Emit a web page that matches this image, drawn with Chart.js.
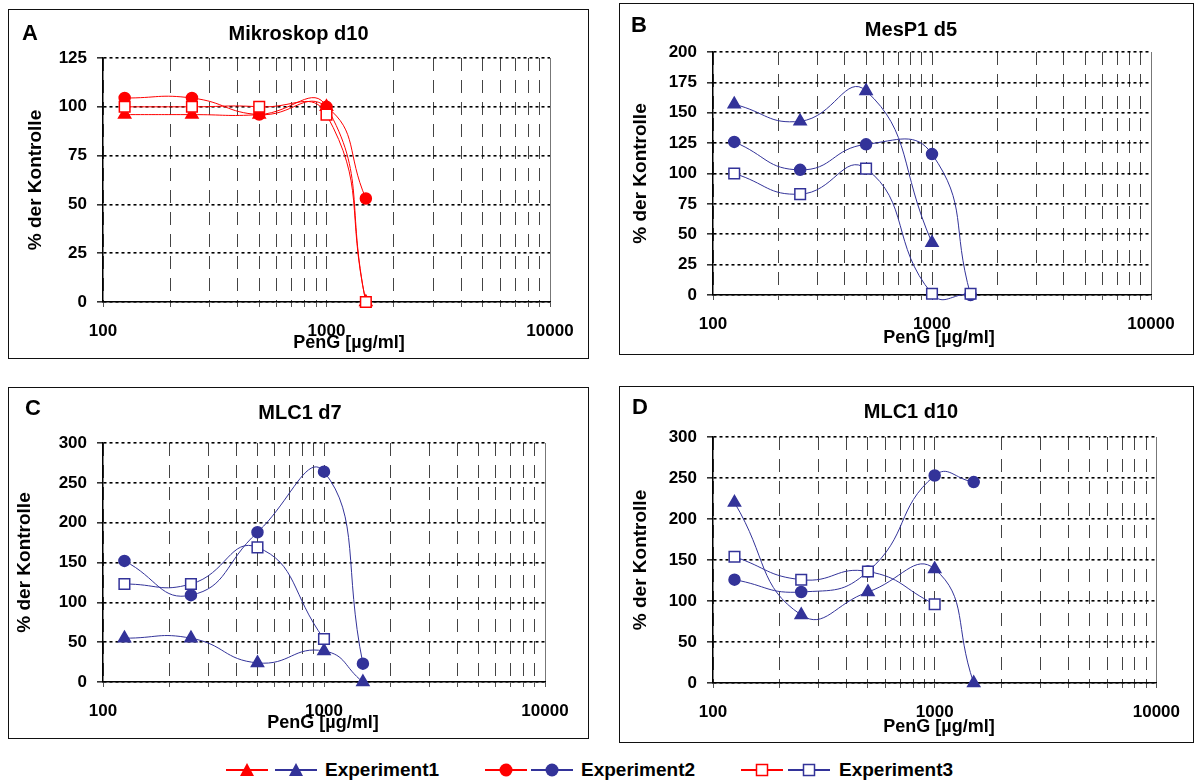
<!DOCTYPE html>
<html>
<head>
<meta charset="utf-8">
<script src="https://cdn.jsdelivr.net/npm/chart.js@4.4.1/dist/chart.umd.min.js"></script>
<style>
  html, body { margin: 0; padding: 0; background: #fff; }
  body { width: 1196px; height: 783px; position: relative; overflow: hidden;
         font-family: "Liberation Sans", Arial, sans-serif; }
  .panel { position: absolute; box-sizing: border-box; border: 1px solid #111; }
  .panel canvas { position: absolute; left: -1px; top: -1px; }
  .leg-icon { position: absolute; }
  .leg-text { position: absolute; font-weight: bold; font-size: 19px; line-height: 20px; color: #000; white-space: nowrap; }
</style>
</head>
<body>
<script>
// PenG concentrations (µg/ml) used in every experiment
const concentrations = [125, 250, 500, 1000, 1500];
const xTickLabels = [100, 1000, 10000];
const seriesNames = ['Experiment1', 'Experiment2', 'Experiment3'];

// Mikroskop d10 (% der Kontrolle)
const mikroskopD10Exp1 = [96, 96, 96, 100, 0];
const mikroskopD10Exp2 = [104.5, 104.5, 96, 100, 53];
const mikroskopD10Exp3 = [100, 100, 100, 96, 0];

// MesP1 d5
const mesp1D5Exp1 = [157, 143, 168, 43, null];
const mesp1D5Exp2 = [126, 103, 124, 116, 0];
const mesp1D5Exp3 = [100, 83, 104, 1, 1];

// MLC1 d7
const mlc1D7Exp1 = [55, 55, 24, 39, 0];
const mlc1D7Exp2 = [152, 109, 188, 264, 23];
const mlc1D7Exp3 = [123, 123, 169, 54, null];

// MLC1 d10
const mlc1D10Exp1 = [220, 83, 111, 139, 0];
const mlc1D10Exp2 = [126, 111, 136, 253, 245];
const mlc1D10Exp3 = [154, 126, 136, 96, null];

const panelLetters = ['A', 'B', 'C', 'D'];
const panelTitles = ['Mikroskop d10', 'MesP1 d5', 'MLC1 d7', 'MLC1 d10'];
const panelYMax = [125, 200, 300, 300];
const panelYStep = [25, 25, 50, 50];
const panelSeries = [
  [mikroskopD10Exp1, mikroskopD10Exp2, mikroskopD10Exp3],
  [mesp1D5Exp1, mesp1D5Exp2, mesp1D5Exp3],
  [mlc1D7Exp1, mlc1D7Exp2, mlc1D7Exp3],
  [mlc1D10Exp1, mlc1D10Exp2, mlc1D10Exp3]
];

const xAxisLabel = 'PenG [µg/ml]';
const yAxisLabel = '% der Kontrolle';

// ---- styling and layout ----
const RED = '#ff0000';
const BLUE = '#333399';
const panelColors = [RED, BLUE, BLUE, BLUE];
const FONT = '"Liberation Sans", Arial, sans-serif';
const X_AXIS_H = 40;

const layouts = [
  { box: {x: 8,   y: 9,   w: 581, h: 350}, plot: {l: 95, t: 49, r: 542, b: 293}, yTitleX: 28,
    title: {x: 290.5, y: 25}, letter: {x: 14, y: 25}, xTitle: {x: 341, y: 334} },
  { box: {x: 619, y: 3,   w: 575, h: 352}, plot: {l: 94, t: 49, r: 532, b: 292}, yTitleX: 22,
    title: {x: 292, y: 27}, letter: {x: 12, y: 23}, xTitle: {x: 320, y: 335} },
  { box: {x: 8,   y: 387, w: 581, h: 352}, plot: {l: 95, t: 56, r: 537, b: 295}, yTitleX: 17,
    title: {x: 292, y: 26}, letter: {x: 17, y: 22}, xTitle: {x: 315, y: 336} },
  { box: {x: 619, y: 386, w: 575, h: 357}, plot: {l: 94, t: 51, r: 543, b: 297}, yTitleX: 22,
    title: {x: 292, y: 26}, letter: {x: 13, y: 22}, xTitle: {x: 320, y: 341} }
];

// log grid: 1..9 in every decade between 100 and 10000
const xGridValues = [];
for (let d = 100; d < 10000; d *= 10) for (let m = 1; m < 10; m++) xGridValues.push(m * d);
xGridValues.push(10000);

// panel letter, chart title and x axis caption
const panelText = {
  id: 'panelText',
  afterDraw(chart, args, o) {
    const ctx = chart.ctx;
    ctx.save();
    ctx.fillStyle = '#000';
    ctx.textBaseline = 'middle';
    ctx.textAlign = 'left';
    ctx.font = 'bold 22px ' + FONT;
    ctx.fillText(o.letter, o.letterPos.x, o.letterPos.y);
    ctx.textAlign = 'center';
    ctx.font = 'bold 20px ' + FONT;
    ctx.fillText(o.title, o.titlePos.x, o.titlePos.y);
    ctx.font = 'bold 18px ' + FONT;
    ctx.fillText(xAxisLabel, o.xTitlePos.x, o.xTitlePos.y);
    ctx.restore();
  }
};

// later experiments are painted on top (lower order = drawn last)
function series(values, label, style, fill, stroke, radius, order) {
  return {
    label,
    order,
    data: concentrations.map((x, i) => ({x, y: values[i]})).filter(p => p.y !== null),
    borderColor: stroke,
    backgroundColor: fill,
    borderWidth: 1,
    pointStyle: style,
    pointRadius: radius,
    pointBackgroundColor: fill,
    pointBorderColor: stroke,
    pointBorderWidth: 1.5,
    tension: 0.5,
    capBezierPoints: false,
    fill: false,
    clip: false
  };
}

function buildPanel(i) {
  const L = layouts[i];
  const color = panelColors[i];
  const wrap = document.createElement('div');
  wrap.className = 'panel';
  Object.assign(wrap.style, {left: L.box.x + 'px', top: L.box.y + 'px', width: L.box.w + 'px', height: L.box.h + 'px'});
  const canvas = document.createElement('canvas');
  canvas.width = L.box.w; canvas.height = L.box.h;
  canvas.style.width = L.box.w + 'px'; canvas.style.height = L.box.h + 'px';
  wrap.appendChild(canvas);
  document.body.appendChild(wrap);

  const yTitleFont = 19, yTitleLH = yTitleFont * 1.2;
  const scaleLeft = L.yTitleX - yTitleLH / 2;
  const yWidth = L.plot.l - scaleLeft;
  const [e1, e2, e3] = panelSeries[i];

  new Chart(canvas, {
    type: 'line',
    data: {
      datasets: [
        series(e1, seriesNames[0], 'triangle', color, color, 7, 2),
        series(e2, seriesNames[1], 'circle', color, color, 5.5, 1),
        series(e3, seriesNames[2], 'rect', '#ffffff', color, 7.5, 0)
      ]
    },
    options: {
      responsive: false,
      animation: false,
      devicePixelRatio: 1,
      events: [],
      elements: { line: { capBezierPoints: false } },
      layout: { padding: { left: scaleLeft, top: L.plot.t, right: L.box.w - L.plot.r,
                           bottom: L.box.h - L.plot.b - X_AXIS_H } },
      plugins: {
        legend: { display: false },
        tooltip: { enabled: false },
        title: { display: false },
        panelText: { letter: panelLetters[i], title: panelTitles[i],
                     letterPos: L.letter, titlePos: L.title, xTitlePos: L.xTitle }
      },
      scales: {
        x: {
          type: 'logarithmic',
          min: 100, max: 10000,
          afterFit(s) { s.height = X_AXIS_H; },
          afterBuildTicks(s) { s.ticks = xGridValues.map(v => ({value: v})); },
          ticks: {
            autoSkip: false, maxRotation: 0, minRotation: 0, padding: 14,
            color: '#000', font: { family: FONT, size: 17, weight: 'bold' },
            callback: v => xTickLabels.includes(v) ? String(v) : ''
          },
          grid: {
            color: c => (c.tick && c.tick.value === 10000) ? '#777' : '#444',
            lineWidth: 1, tickLength: 5, tickColor: '#555'
          },
          border: { display: true, color: '#000', width: 1.5,
                    dash: c => (c.tick && c.tick.value === 10000) ? [] : [13, 9] }
        },
        y: {
          min: 0, max: panelYMax[i],
          afterFit(s) { s.width = yWidth; },
          ticks: { stepSize: panelYStep[i], padding: 10, color: '#000',
                   font: { family: FONT, size: 17, weight: 'bold' } },
          grid: { color: '#000', lineWidth: 1.6, tickLength: 6, tickColor: '#333' },
          border: { display: true, color: '#000', width: 1.5, dash: [3, 3] },
          title: { display: true, text: yAxisLabel, color: '#000', padding: 0,
                   font: { family: FONT, size: yTitleFont, weight: 'bold' } }
        }
      }
    },
    plugins: [panelText]
  });
}

for (let i = 0; i < 4; i++) buildPanel(i);

// shared legend: red and blue swatch for each experiment
const legendGroups = [
  {red: 226, blue: 275, text: 325, shape: 'triangle'},
  {red: 485, blue: 531, text: 581, shape: 'circle'},
  {red: 741, blue: 788, text: 839, shape: 'rect'}
];
const LEG_Y = 760;
function swatch(x, color, shape) {
  const ns = 'http://www.w3.org/2000/svg';
  const svg = document.createElementNS(ns, 'svg');
  svg.setAttribute('width', 42); svg.setAttribute('height', 20);
  svg.setAttribute('class', 'leg-icon');
  svg.style.left = x + 'px'; svg.style.top = LEG_Y + 'px';
  const line = document.createElementNS(ns, 'line');
  line.setAttribute('x1', 0); line.setAttribute('y1', 10); line.setAttribute('x2', 42); line.setAttribute('y2', 10);
  line.setAttribute('stroke', color); line.setAttribute('stroke-width', 2);
  svg.appendChild(line);
  let m;
  if (shape === 'triangle') {
    m = document.createElementNS(ns, 'polygon');
    m.setAttribute('points', '21,3 14,16 28,16');
    m.setAttribute('fill', color);
  } else if (shape === 'circle') {
    m = document.createElementNS(ns, 'circle');
    m.setAttribute('cx', 21); m.setAttribute('cy', 10); m.setAttribute('r', 6.5);
    m.setAttribute('fill', color);
  } else {
    m = document.createElementNS(ns, 'rect');
    m.setAttribute('x', 15.5); m.setAttribute('y', 4.5); m.setAttribute('width', 11); m.setAttribute('height', 11);
    m.setAttribute('fill', '#fff'); m.setAttribute('stroke', color); m.setAttribute('stroke-width', 1.5);
  }
  svg.appendChild(m);
  document.body.appendChild(svg);
}
legendGroups.forEach((g, k) => {
  swatch(g.red, RED, g.shape);
  swatch(g.blue, BLUE, g.shape);
  const t = document.createElement('div');
  t.className = 'leg-text';
  t.style.left = g.text + 'px'; t.style.top = LEG_Y + 'px';
  t.textContent = seriesNames[k];
  document.body.appendChild(t);
});
</script>
</body>
</html>
